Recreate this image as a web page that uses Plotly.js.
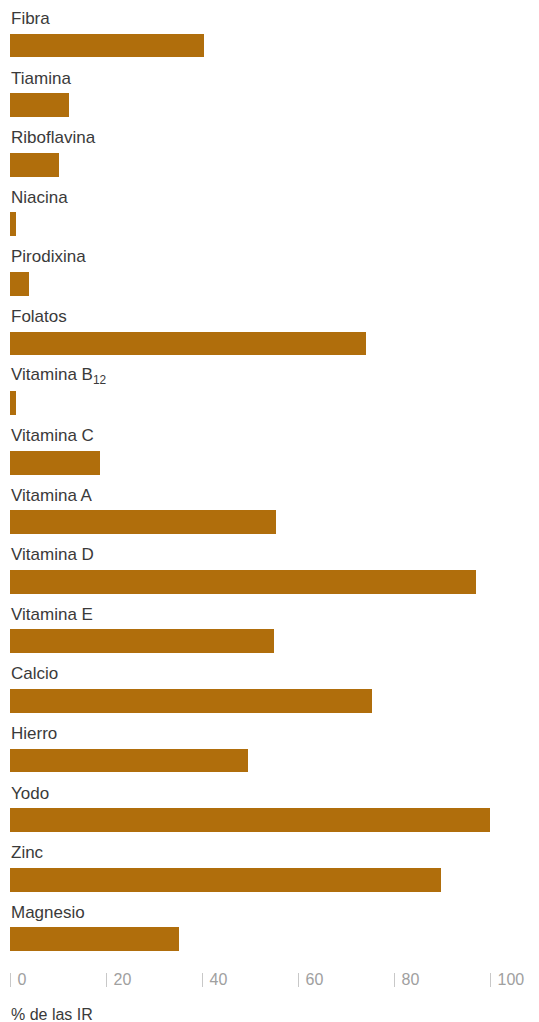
<!DOCTYPE html>
<html>
<head>
<meta charset="utf-8">
<script src="https://cdn.plot.ly/plotly-3.0.1.min.js"></script>
<style>html,body{margin:0;padding:0;background:#fff;}#chart{width:539px;height:1022px;}</style>
</head>
<body>
<div id="chart"></div>
<script>
const categories = ["Fibra","Tiamina","Riboflavina","Niacina","Pirodixina","Folatos","Vitamina B<sub>12</sub>","Vitamina C","Vitamina A","Vitamina D","Vitamina E","Calcio","Hierro","Yodo","Zinc","Magnesio"];
const values = [40.4, 12.2, 10.3, 1.3, 4.0, 74.2, 1.3, 18.7, 55.4, 97.0, 55.0, 75.5, 49.5, 100.3, 89.7, 35.2];
const tickValues = [0, 20, 40, 60, 80, 100];
const axisTitle = "% de las IR";

const idx = categories.map((c, i) => i);
const barColor = "#b06e0c";
const fontFam = "'Liberation Sans', Arial, Helvetica, sans-serif";

const trace = {
  type: "bar",
  orientation: "h",
  x: values,
  y: idx,
  width: 0.4,
  marker: {color: barColor, line: {width: 0}},
  hoverinfo: "skip"
};

const annotations = categories.map((c, i) => ({
  xref: "paper", yref: "y", x: 0, y: i,
  xanchor: "left", yanchor: "middle",
  yshift: 27, xshift: -1,
  text: c, showarrow: false,
  font: {family: fontFam, size: 17, color: "#3a3a3a"}
}));
annotations.push({
  xref: "paper", yref: "paper", x: 0, y: 0,
  xanchor: "left", yanchor: "middle",
  yshift: -42, xshift: -1,
  text: axisTitle, showarrow: false,
  font: {family: fontFam, size: 16, color: "#3a3a3a"}
});

const layout = {
  width: 539, height: 1022,
  margin: {l: 10, r: 49, t: 5, b: 50},
  paper_bgcolor: "#fff", plot_bgcolor: "#fff",
  showlegend: false,
  bargap: 0,
  xaxis: {
    range: [0, 100], fixedrange: true,
    tickvals: tickValues, ticktext: tickValues.map(String),
    showgrid: false, zeroline: false, showline: false,
    ticks: "outside", ticklen: 14, tickwidth: 1, tickcolor: "#c8c8c8",
    ticklabelposition: "outside right",
    ticklabelstandoff: -7,
    ticklabelshift: 7,
    tickfont: {family: fontFam, size: 16, color: "#a0a0a0"}
  },
  yaxis: {
    range: [15.55, -0.68], fixedrange: true,
    showticklabels: false, showgrid: false, zeroline: false, showline: false, ticks: ""
  },
  annotations: annotations
};

Plotly.newPlot("chart", [trace], layout, {displayModeBar: false, staticPlot: true});
</script>
</body>
</html>
